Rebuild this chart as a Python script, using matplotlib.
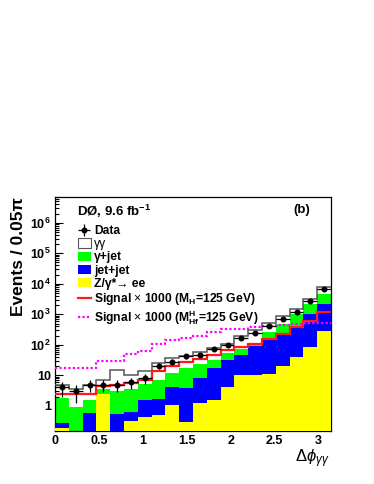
import numpy as np
import matplotlib
matplotlib.use('Agg')
import matplotlib.pyplot as plt
from matplotlib.patches import Patch
from matplotlib.lines import Line2D
from matplotlib.ticker import FixedLocator, FixedFormatter, LogLocator, NullFormatter, MultipleLocator

plt.rcParams['font.family'] = ['Liberation Sans', 'DejaVu Sans']
plt.rcParams['mathtext.fontset'] = 'custom'
plt.rcParams['mathtext.rm'] = 'Liberation Sans'
plt.rcParams['mathtext.bf'] = 'Liberation Sans:bold'
plt.rcParams['mathtext.it'] = 'Liberation Sans:italic'

# 20 bins of 0.05*pi in delta phi
n_bins = 20
# background components (stacked, bottom to top)
zee = [0.19, 0, 0, 2.5, 0, 0.33, 0.42, 0.5, 1.1, 0.3,
       1.2, 1.6, 4.2, 10, 10.5, 11, 19.5, 41, 88, 277]
jetjet = [0.08, 0, 0.57, 0, 0.55, 0.32, 1.08, 1.2, 3.1, 3.6,
          6.8, 15.4, 28.8, 38, 79.5, 149, 230, 369, 912, 1923]
gamjet = [1.5, 0.95, 1.03, 1.0, 2.55, 2.95, 3.8, 5.1, 7.8, 13.7,
          15, 16, 22, 24, 27, 100, 230, 590, 1100, 2400]
gamgam = [3.0, 2.65, 3.2, 3.7, 11.4, 6.4, 8.7, 18.2, 26, 24.4,
          34, 47, 48, 128, 188, 250, 400, 470, 1050, 3100]
data = [4, 3, 5, 5, 5, 6, 8, 21, 28, 42,
        48, 74, 97, 162, 250, 410, 690, 1220, 2750, 6800]
sig_h = [2.5, 2.5, 2.5, 4.5, 4.7, 5.6, 6.8, 13.5, 19.8, 27,
         35, 45, 66, 85, 105, 155, 230, 380, 620, 1150]
sig_hf = [17.9, 17.9, 17.9, 29, 29, 52, 62, 103, 140, 170,
          190, 256, 323, 330, 375, 405, 440, 470, 510, 510]

edges = np.linspace(0, np.pi, n_bins + 1)
centers = 0.5 * (edges[1:] + edges[:-1])
halfw = 0.5 * (edges[1] - edges[0])

fig = plt.figure(figsize=(3.74, 4.84), dpi=100)
ax = fig.add_axes([55 / 374, 53 / 484, 276 / 374, 234 / 484])

c_yel = np.array(zee)
c_blu = c_yel + np.array(jetjet)
c_grn = c_blu + np.array(gamjet)
c_tot = c_grn + np.array(gamgam)
floor = 1e-3

ax.stairs(c_tot, edges, baseline=floor, fill=True, color='white', zorder=1)
ax.stairs(c_grn, edges, baseline=floor, fill=True, color='#00ff00', zorder=2)
ax.stairs(c_blu, edges, baseline=floor, fill=True, color='#0000ff', zorder=3)
ax.stairs(c_yel, edges, baseline=floor, fill=True, color='#ffff00', zorder=4)
ax.stairs(c_tot, edges, baseline=None, color='#555555', lw=1.1, zorder=5)

ax.stairs(sig_h, edges, baseline=None, color='#ff1a1a', lw=1.6, zorder=6)
ax.stairs(sig_hf, edges, baseline=None, color='#ff00ff', lw=1.6, ls=(0, (1, 1)), zorder=6)

d = np.array(data, dtype=float)
eb = ax.errorbar(centers, d, yerr=np.sqrt(d), xerr=halfw, fmt='o', ms=3.3,
                 color='black', elinewidth=0.9, capsize=0, zorder=7)

ax.set_yscale('log')
ax.set_xlim(0, np.pi)
ax.set_ylim(0.15, 7e6)

xt = [0, 0.5, 1, 1.5, 2, 2.5, 3]
ax.set_xticks(xt)
ax.set_xticklabels(['0', '0.5', '1', '1.5', '2', '2.5', '3'], fontweight='bold', fontsize=9)
ax.xaxis.set_minor_locator(MultipleLocator(0.1))

yt = [1, 10, 1e2, 1e3, 1e4, 1e5, 1e6]
ax.yaxis.set_major_locator(FixedLocator(yt))
ax.yaxis.set_major_formatter(FixedFormatter(['1', '10', r'$\mathbf{10^{2}}$', r'$\mathbf{10^{3}}$',
                                             r'$\mathbf{10^{4}}$', r'$\mathbf{10^{5}}$', r'$\mathbf{10^{6}}$']))
ax.yaxis.set_minor_locator(LogLocator(base=10, subs=np.arange(2, 10), numticks=20))
ax.yaxis.set_minor_formatter(NullFormatter())
for lab in ax.get_yticklabels():
    lab.set_fontweight('bold')
    lab.set_fontsize(9)

ax.tick_params(which='both', direction='in', top=False, right=False, width=0.8)
ax.tick_params(which='major', length=5.5, pad=3)
ax.tick_params(which='minor', length=2.8)
for s in ax.spines.values():
    s.set_linewidth(0.9)

ax.set_ylabel('Events / 0.05π', fontsize=12.5, fontweight='bold', loc='top', labelpad=3)
fig.text(330 / 374, (484 - 462) / 484, r'$\Delta\phi_{\gamma\gamma}$', fontsize=12, ha='right')

handles = [eb,
           Patch(facecolor='white', edgecolor='#555555', lw=0.8),
           Patch(facecolor='#00ff00'),
           Patch(facecolor='#0000ff'),
           Patch(facecolor='#ffff00'),
           Line2D([], [], color='#ff1a1a', lw=1.6),
           Line2D([], [], color='#ff00ff', lw=1.6, ls=(0, (1, 1)))]
labels = ['Data', 'γγ', 'γ+jet', 'jet+jet', 'Z/γ*→ ee',
          r'Signal $\times$ 1000 (M$_{\mathbf{H}}$=125 GeV)',
          r'Signal $\times$ 1000 (M$^{\mathbf{H}}_{\mathbf{Hf}}$=125 GeV)']
leg = ax.legend(handles, labels, loc='upper left', bbox_to_anchor=(0.083, 0.88), frameon=False,
                prop={'weight': 'bold', 'size': 8.7}, handlelength=1.05, handleheight=0.8,
                handletextpad=0.3, labelspacing=0.1, borderpad=0, borderaxespad=0)
leg.get_texts()[1].set_fontweight('normal')

ax.text(0.08, 0.94, r'DØ, 9.6 fb$^{\mathbf{-1}}$', transform=ax.transAxes, fontsize=9.5,
        fontweight='bold', va='center', ha='left')
ax.text(0.895, 0.944, '(b)', transform=ax.transAxes, fontsize=9.5,
        fontweight='bold', va='center', ha='center')

fig.savefig('out.png', dpi=100)
